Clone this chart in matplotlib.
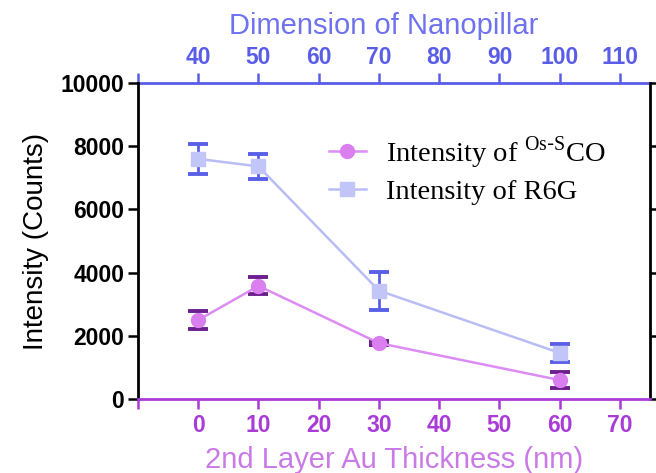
import matplotlib.pyplot as plt

# thickness of the 2nd Au layer (nm)
thickness = [0, 10, 30, 60]

# Os-S CO intensity and error
osco = [2500, 3580, 1770, 600]
osco_err = [290, 270, 60, 250]

# R6G intensity and error
r6g = [7600, 7360, 3430, 1460]
r6g_err = [470, 400, 600, 280]

bottom_ticks = [-10, 0, 10, 20, 30, 40, 50, 60, 70]
bottom_labels = ['', '0', '10', '20', '30', '40', '50', '60', '70']
top_ticks = [30, 40, 50, 60, 70, 80, 90, 100, 110]
top_labels = ['', '40', '50', '60', '70', '80', '90', '100', '110']

purple = '#a93bd6'
purple_lt = '#c97ae6'
blue = '#5a5de8'
blue_lt = '#6f72ee'

plt.rcParams['font.family'] = ['Liberation Sans', 'DejaVu Sans']

fig = plt.figure(figsize=(6.56, 4.73), dpi=100)
ax = fig.add_axes([0.2104, 0.1564, 0.7805, 0.6681])

# error bars first, lines and markers on top
ax.errorbar(thickness, osco, yerr=osco_err, fmt='none', ecolor='#6e1f8e',
            elinewidth=2, capsize=7, capthick=2.8, zorder=2)
ax.errorbar(thickness, r6g, yerr=r6g_err, fmt='none', ecolor='#5a60e6',
            elinewidth=2, capsize=7, capthick=2.8, zorder=2)
ax.plot(thickness, osco, color='#dc8cf2', lw=1.8, marker='o', ms=10,
        mfc='#d97ff0', mec='#d97ff0', zorder=3,
        label=r'Intensity of $^{\mathregular{Os\text{-}S}}$CO')
ax.plot(thickness, r6g, color='#b9bdf6', lw=1.8, marker='s', ms=10.5,
        mfc='#c2c5f8', mec='#c2c5f8', zorder=3, label='Intensity of R6G')

ax.set_xlim(-10, 75)
ax.set_ylim(0, 10000)
ax.set_yticks([0, 2000, 4000, 6000, 8000, 10000])
ax.set_xticks(bottom_ticks)
ax.set_xticklabels(bottom_labels)

ax.tick_params(axis='y', which='both', direction='out', length=7, width=1.8,
               labelsize=16.5, right=True, color='black', pad=3)
ax.tick_params(axis='x', direction='out', length=7, width=1.8,
               labelsize=16.5, color=purple, labelcolor=purple, pad=4)
for lbl in ax.get_yticklabels() + ax.get_xticklabels():
    lbl.set_fontweight('bold')

# end ticks of the y axis take the colour of the axis they touch
yt = ax.yaxis.get_major_ticks()
yt[0].tick1line.set_color(purple)
yt[-1].tick1line.set_color(blue)

for s in ['left', 'right']:
    ax.spines[s].set_linewidth(2)
    ax.spines[s].set_color('black')
ax.spines['bottom'].set_linewidth(2)
ax.spines['bottom'].set_color(purple)
ax.spines['top'].set_visible(False)

ax.set_ylabel('Intensity (Counts)', fontsize=20, labelpad=8)
ax.set_xlabel('2nd Layer Au Thickness (nm)', fontsize=21, color=purple_lt,
              labelpad=6)

# nanopillar dimension axis along the top
top = ax.secondary_xaxis('top', functions=(lambda x: x + 40, lambda x: x - 40))
top.set_xticks(top_ticks)
top.set_xticklabels(top_labels)
top.spines['top'].set_linewidth(2)
top.spines['top'].set_color(blue)
top.tick_params(direction='out', length=7, width=1.8, labelsize=16.5,
                color=blue, labelcolor=blue, pad=3)
for lbl in top.get_xticklabels():
    lbl.set_fontweight('bold')
top.set_xlabel('Dimension of Nanopillar', fontsize=21, color=blue_lt,
               labelpad=9, x=0.48)

ax.legend(loc='upper left', bbox_to_anchor=(0.35, 0.875), frameon=False,
          prop={'family': 'Liberation Serif', 'size': 20.5},
          handlelength=1.3, handletextpad=0.7, labelspacing=0.3,
          borderaxespad=0)

fig.savefig('out.png', dpi=100)
